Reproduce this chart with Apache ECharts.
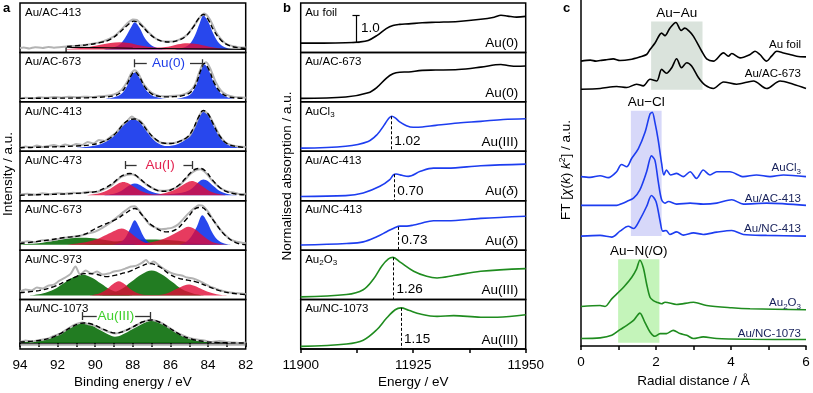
<!DOCTYPE html>
<html><head><meta charset="utf-8">
<script src="https://cdn.jsdelivr.net/npm/echarts@6/dist/echarts.min.js"></script>
<style>html,body{margin:0;padding:0;background:#fff}#c{width:813px;height:393px}</style>
</head><body><div id="c"></div>
<script>
// ================= DATA =================
// ---- Panel a: XPS Au 4f (x = binding energy / eV, y = intensity above background, a.u.)
const xpsNames = ['Au/AC-413','Au/AC-673','Au/NC-413','Au/NC-473','Au/NC-673','Au/NC-973','Au/NC-1073'];
const xpsBackground = [3, 3, 3.3, 5.5, 5.5, 4, 6];

const rawAC413 = [[94,1.5],[93.8,2],[93.5,1],[93.2,2.2],[92.8,1.5],[92.5,2.5],[92.2,1.8],[91.8,2.5],[91.5,3],[90.8,4],[90.2,5.5],[89.6,8],[89.0,13],[88.6,20],[88.3,26],[88.0,30],[87.8,29.5],[87.5,24],[87.1,16],[86.7,10],[86.3,8],[85.9,8],[85.5,10],[85.1,15],[84.7,25],[84.4,33],[84.2,36],[83.9,30],[83.6,18],[83.3,10],[83.0,5],[82.6,3],[82.3,2],[82.0,2]];
const envAC413 = [[91.5,3],[90.5,4.5],[89.7,7],[89.2,10],[88.7,17],[88.3,24],[87.95,28.3],[87.6,25],[87.2,17],[86.8,11],[86.4,8],[86.0,7.5],[85.6,9],[85.2,13],[84.8,22],[84.5,31],[84.25,35],[84.0,30],[83.7,19],[83.3,9],[82.9,4],[82.5,2],[82.0,1]];
const blueAC413 = [[89.6,0],[89.1,1.5],[88.7,5],[88.4,12],[88.1,22],[87.9,27.3],[87.65,22],[87.35,11],[87.0,4],[86.6,1],[86.2,0],[85.9,0],[85.4,1.5],[85.0,5],[84.7,14],[84.45,26],[84.25,34],[84.0,28],[83.7,15],[83.4,6],[83.0,1.5],[82.5,0]];
const redAC413 = [[91.5,0.5],[90.5,2],[89.8,4.5],[89.2,6.5],[88.7,7.3],[88.2,6.5],[87.6,4],[87.0,2.2],[86.5,2],[86.0,3.2],[85.6,5.2],[85.1,6.3],[84.6,5.5],[84.0,3],[83.4,1],[82.8,0]];
const bgStepAC413 = [[91.55,-3],[91.55,2.4],[88,1.2],[82,0]];

const rawAC673 = [[94,0],[93.7,1],[93.3,0.5],[93.0,1.5],[92.6,1],[92.2,1.8],[91.8,1.2],[91.4,2],[91.0,1.5],[90.6,2.2],[90.2,1.8],[89.8,2.5],[89.4,3],[89.0,4.5],[88.6,9],[88.3,17],[88.1,25],[87.9,28.5],[87.7,25],[87.4,14],[87.0,6],[86.6,3],[86.2,2.5],[85.8,3],[85.4,4],[85.0,7],[84.7,14],[84.5,25],[84.3,34],[84.1,36.5],[83.9,31],[83.6,17],[83.3,8],[83.0,4],[82.6,2],[82.3,1.5],[82.0,1]];
const envAC673 = [[94,0.5],[92,0.7],[90.5,1],[89.5,2],[89.0,3],[88.6,7],[88.3,15],[88.1,23],[87.9,27],[87.65,22],[87.35,11.5],[87.0,5],[86.6,2.5],[86.2,2],[85.8,2.2],[85.3,3.5],[84.9,7],[84.6,17],[84.4,28],[84.2,35.5],[83.95,29],[83.65,15],[83.3,6],[82.9,2],[82.5,1],[82.0,0.5]];
const blueAC673 = [[89.5,0],[89.0,1.5],[88.6,5],[88.3,13],[88.1,22],[87.9,26.3],[87.65,21],[87.35,10],[87.0,3.5],[86.6,1],[86.2,0],[85.8,0],[85.3,1.5],[84.9,5],[84.6,15],[84.4,27],[84.2,34.7],[83.95,28],[83.65,14],[83.3,5],[82.9,1],[82.5,0]];

const rawNC413 = [[94,0],[93.7,1.5],[93.4,0.5],[93.1,2.5],[92.8,1],[92.5,2],[92.2,3],[91.9,1.5],[91.6,3.5],[91.3,2],[91.0,4],[90.7,3],[90.4,6],[90.1,4.5],[89.8,8],[89.5,7],[89.2,11],[88.9,15],[88.6,22],[88.3,27],[88.05,31.5],[87.85,29],[87.6,27],[87.3,20],[87.0,12],[86.6,6],[86.2,4.5],[85.8,5],[85.4,7.5],[85.0,12],[84.7,22],[84.45,33],[84.25,37],[84.0,34],[83.7,24],[83.4,13],[83.1,6],[82.8,3],[82.4,1.5],[82.0,1]];
const envNC413 = [[94,0.3],[93,0.8],[92,1.3],[91,2],[90.3,3],[89.7,5.5],[89.2,10],[88.8,17],[88.5,24],[88.2,28],[87.9,29],[87.6,26],[87.2,16.5],[86.8,9],[86.4,5],[86.0,4.5],[85.6,6],[85.1,11],[84.8,19],[84.5,31],[84.25,37.5],[84.0,34],[83.7,23],[83.4,12.5],[83.0,4.5],[82.5,1.5],[82.0,0.5]];
const blueNC413 = [[91.0,0],[90.3,1.5],[89.7,4],[89.2,9],[88.8,16],[88.5,23],[88.2,27.5],[87.9,28.4],[87.6,25],[87.2,15],[86.8,6.5],[86.4,2.5],[86.2,2],[85.6,4],[85.1,10],[84.8,18],[84.5,30],[84.25,36.7],[84.0,33],[83.7,22],[83.4,12],[83.0,4],[82.5,1],[82.1,0]];

const rawNC473 = [[94,0.5],[93.6,1.5],[93.2,0.5],[92.8,2],[92.4,1],[92.0,2],[91.6,1.5],[91.2,2.5],[90.8,2],[90.4,3.5],[90.0,3],[89.6,5.5],[89.2,9],[88.9,14],[88.6,18.5],[88.3,20.5],[88.05,21],[87.8,19],[87.5,14],[87.1,8.5],[86.7,5],[86.3,4.5],[85.9,6],[85.5,10],[85.2,16],[84.9,22],[84.6,25.5],[84.4,26],[84.1,22],[83.8,15],[83.4,8],[83.0,4],[82.6,2.5],[82.3,1],[82.0,1.5]];
const envNC473 = [[94,0],[93,0.5],[92,1],[91,1.8],[90.5,2.5],[89.9,4],[89.4,8],[89.0,13],[88.7,18],[88.4,21],[88.15,21.7],[87.9,20.5],[87.6,16],[87.2,10],[86.8,5.5],[86.5,4],[86.2,4],[85.9,6],[85.5,11],[85.2,17],[84.9,23],[84.6,26.5],[84.4,26.7],[84.1,23.5],[83.8,16],[83.4,8],[83.0,3.5],[82.6,1.5],[82.2,0.5],[82.0,0.3]];
const redNC473 = [[90.5,0],[89.9,1.5],[89.4,4.5],[89.0,9],[88.75,12],[88.5,13.3],[88.25,12],[87.95,8.5],[87.6,4.5],[87.2,1.8],[86.8,0.8],[86.4,1.8],[85.9,4.5],[85.45,9],[85.15,12.5],[84.87,14.3],[84.6,12.8],[84.3,9],[83.95,4.5],[83.5,1.5],[83.0,0]];
const blueNC473 = [[89.6,0],[89.0,1.5],[88.6,4.5],[88.3,8.5],[88.1,10.8],[87.9,11.7],[87.65,10.5],[87.35,7],[87.0,3.5],[86.6,1.5],[86.2,1],[85.8,1.5],[85.4,2.5],[85.0,5],[84.7,9.5],[84.45,14],[84.25,15.7],[84.0,14],[83.7,9],[83.35,4],[82.9,1],[82.4,0]];

const rawNC673 = [[94,2],[93.6,3.5],[93.2,2.5],[92.8,4.5],[92.4,4],[92.0,5.5],[91.6,7],[91.2,8],[90.8,9],[90.4,11],[90.0,13],[89.6,17],[89.2,22],[88.8,28],[88.4,34],[88.1,38],[87.9,38.5],[87.7,35],[87.4,27],[87.1,20],[86.8,17],[86.5,15.5],[86.2,16],[85.9,17],[85.6,20],[85.3,26],[85.0,32],[84.7,37],[84.5,39.5],[84.3,39],[84.0,33],[83.7,24],[83.4,16],[83.1,10],[82.8,5],[82.5,3],[82.2,2],[82.0,1.5]];
const envNC673 = [[94,1.2],[92.8,3.8],[91.6,7.2],[90.7,9.5],[89.8,17.8],[88.9,25.2],[88.4,31.2],[87.9,36.2],[87.5,29.5],[87.0,19.5],[86.2,12.8],[85.7,15.2],[85.2,24.5],[84.5,37.2],[84.3,37],[84.0,31.2],[83.6,21.2],[83.1,9.5],[82.5,1.8],[82.0,0]];
const green1NC673 = [[94,0.5],[93,1.5],[92.2,4],[91.5,6],[90.7,7],[89.9,6],[89.2,4],[88.4,1.5],[87.5,0.3],[87,0]];
const green2NC673 = [[91,0],[90,1],[89.2,2.5],[88.4,4.2],[87.1,5.2],[85.8,4.2],[85,2.5],[84.2,1],[83.3,0.2],[82.5,0]];
const blueNC673 = [[89.1,0],[88.7,2],[88.4,7],[88.15,16],[87.9,24.5],[87.7,19],[87.45,9],[87.2,3],[86.8,0],[85.6,0],[85.2,2.5],[84.9,8],[84.6,18],[84.3,29.5],[84.05,23],[83.8,13],[83.5,5],[83.1,1],[82.7,0]];
const red1NC673 = [[91.5,0],[90.7,2],[90,5],[89.4,10],[88.9,14.5],[88.6,16.2],[88.2,13],[87.8,7],[87.4,2.5],[87,0.5],[86.6,0]];
const red2NC673 = [[88,0],[87.2,2],[86.5,5],[85.9,10],[85.4,15],[85.05,17.8],[84.7,15.5],[84.3,9.5],[83.9,4],[83.5,1.2],[83,0]];

const rawNC973 = [[94,4],[93.7,6],[93.4,5],[93.1,8],[92.8,7],[92.5,10],[92.2,11],[91.9,15],[91.6,18],[91.3,22],[91.05,29],[90.8,21],[90.5,25],[90.2,22],[89.9,24],[89.6,21],[89.3,22],[89.0,24],[88.7,25],[88.4,27],[88.1,29],[87.8,30],[87.5,33],[87.3,35.5],[87.1,32],[86.9,34],[86.6,30],[86.3,26],[86.0,23],[85.7,21],[85.4,20],[85.1,18],[84.8,17],[84.5,15],[84.2,12],[83.9,9],[83.6,7],[83.3,5],[83.0,3.5],[82.6,2.5],[82.2,2],[82.0,1.5]];
const envNC973 = [[94,3],[93,5],[92.2,9],[91.6,14],[91,19],[90.6,22],[90.0,21.5],[89.4,19],[88.9,20.5],[88.6,22],[88.2,24],[87.6,29],[87.1,32],[86.6,29],[86.1,22],[85.6,17.5],[85.1,15.5],[84.6,13.5],[84.0,9],[83.4,5],[82.8,2.5],[82.0,1]];
const green1NC973 = [[93.5,0],[92.8,2],[92.2,6],[91.7,12],[91.2,18],[90.7,21],[90.2,18],[89.7,12],[89.2,6],[88.6,2],[88,0]];
const green2NC973 = [[89.8,0],[89.2,2],[88.6,6.5],[88.1,13.5],[87.5,21.5],[87.0,25],[86.5,21.5],[85.9,13.5],[85.4,6.5],[84.8,2],[84.2,0]];
const redNC973 = [[90.3,0],[89.8,2],[89.4,6],[89.05,11.5],[88.75,14.3],[88.45,11.5],[88.1,6],[87.7,2],[87.2,0.5],[86.8,0.5],[86.2,2],[85.8,5.5],[85.4,9],[85.05,11],[84.7,9.5],[84.3,6],[83.8,2.5],[83.3,0.5],[82.8,0]];

const rawNC1073 = [[94,1],[93.7,2.5],[93.4,1.5],[93.0,3],[92.6,4],[92.2,7],[91.8,10],[91.4,15],[91.0,19],[90.7,20.5],[90.4,19],[90.0,17],[89.6,13.5],[89.2,10.5],[88.9,9.5],[88.6,11],[88.2,14],[87.8,18],[87.4,21.5],[87.0,23],[86.6,21],[86.2,17],[85.8,12],[85.4,8],[85.0,5],[84.6,3.5],[84.2,2.5],[83.8,1],[83.4,2],[83.0,1],[82.6,0.5],[82.2,0],[82.0,0.5]];
const envNC1073 = [[94,1],[93,2.5],[92.3,5.5],[91.8,10],[91.3,15.5],[90.9,19],[90.6,20],[90.2,19],[89.7,15],[89.2,11],[88.9,10],[88.5,11.5],[88.0,16],[87.5,21],[87.0,23],[86.6,21],[86.1,15.5],[85.5,8.5],[84.9,4],[84.2,1.5],[83.5,0.5],[82.0,0]];
const greenNC1073 = [[94,0.5],[93.2,1.5],[92.6,3.5],[92.0,7.5],[91.5,13],[91.0,18],[90.7,19.7],[90.3,18.5],[89.8,13.5],[89.3,8.5],[88.95,6.3],[88.6,8],[88.0,14],[87.4,20],[87.0,22.3],[86.6,20.5],[86.1,15],[85.5,8],[84.9,3.5],[84.2,1.2],[83.5,0.3],[82.5,0]];
const baseNC1073 = [[94,-1.8],[82,-1.8]];

// ---- Panel b: XANES Au L3 (x = energy / eV, y = normalised absorption)
const xanesNames = ['Au foil','Au/AC-673','AuCl{s|3}','Au/AC-413','Au/NC-413','Au{s|2}O{s|3}','Au/NC-1073'];
const xanesStates = ['Au(0)','Au(0)','Au(III)','Au({i|δ})','Au({i|δ})','Au(III)','Au(III)'];
const xFoil = [[11900,0.35],[11905,0.35],[11910,0.36],[11913,0.39],[11915,0.45],[11917,0.64],[11919,0.89],[11920.5,1.01],[11922,1.05],[11924,1.07],[11927,1.11],[11930,1.13],[11935,1.16],[11940,1.24],[11943,1.32],[11944.5,1.39],[11946,1.36],[11948,1.32],[11950,1.35]];
const xAC673 = [[11900,0.13],[11910,0.18],[11915,0.34],[11917,0.55],[11919,0.88],[11920.5,1.05],[11922,1.11],[11924,1.12],[11927,1.18],[11930,1.19],[11935,1.21],[11940,1.30],[11944.5,1.40],[11946,1.36],[11948,1.33],[11950,1.34]];
const xAuCl3 = [[11900,0.12],[11910,0.19],[11915,0.37],[11917,0.63],[11918.5,0.97],[11919.5,1.22],[11920.2,1.31],[11921,1.25],[11922,1.10],[11923.5,0.96],[11925,0.90],[11927,0.91],[11930,0.97],[11935,1.06],[11940,1.12],[11945,1.19],[11950,1.22]];
const xAC413 = [[11900,0.16],[11910,0.19],[11913.9,0.29],[11917.6,0.54],[11919.8,0.79],[11920.6,0.97],[11921.2,1.0],[11922.5,0.95],[11923.9,0.91],[11926.6,1.10],[11929.5,1.22],[11932.5,1.22],[11940,1.31],[11950,1.37]];
const xNC413 = [[11900,0.19],[11910.2,0.25],[11913.9,0.31],[11916.9,0.50],[11919.1,0.69],[11921,0.85],[11922.1,0.90],[11923.6,0.90],[11925.1,0.94],[11926.6,1.0],[11929.5,1.10],[11932.5,1.10],[11940,1.19],[11950,1.27]];
const xAu2O3 = [[11900,0.10],[11910.2,0.19],[11913.9,0.37],[11916.1,0.75],[11918,1.25],[11919.5,1.52],[11920.5,1.58],[11922.1,1.40],[11925.1,1.06],[11928,0.87],[11930.3,0.81],[11934,0.90],[11940,1.06],[11950,1.16]];
const xNC1073 = [[11900,0.10],[11910.2,0.19],[11913.9,0.33],[11916.9,0.72],[11919.1,1.16],[11921,1.47],[11922.3,1.54],[11924,1.45],[11926.6,1.31],[11930.3,1.22],[11934,1.25],[11940,1.19],[11943.7,1.19],[11950,1.28]];
const xanesEdgeE   = [null, null, 11920.1, 11920.8, 11921.7, 11920.6, 11922.3];
const xanesEdgeTop = [null, null, 1.31, 0.99, 0.87, 1.58, 1.54];
const xanesWL      = ['', '', '1.02', '0.70', '0.73', '1.26', '1.15'];
const scaleBarE = 11912.3, scaleBarLo = 0.39, scaleBarHi = 1.39;

// ---- Panel c: FT-EXAFS (x = radial distance / Å, y = FT magnitude above own baseline)
const ftNames = ['Au foil','Au/AC-673','AuCl{s|3}','Au/AC-413','Au/NC-413','Au{s|2}O{s|3}','Au/NC-1073'];
const ftOffsets = [28.76, 25.93, 17.1, 14.2, 11.1, 4.0, 0.76];
const ftFoil = [[0,0],[0.25,0.1],[0.4,0],[0.51,0.07],[0.65,0.13],[0.86,0.23],[1.04,0.07],[1.31,0.17],[1.57,0.43],[1.75,0.67],[1.84,1.17],[1.97,1.8],[2.15,2.83],[2.24,2.57],[2.37,3.33],[2.53,3.9],[2.67,3.1],[2.77,3.33],[2.89,3.0],[3.0,2.5],[3.22,1.0],[3.35,0.23],[3.53,0],[3.8,0.83],[3.93,0.5],[4.02,0.77],[4.24,0.33],[4.51,0.67],[4.64,1.0],[4.77,0.67],[4.95,0],[5.08,0.5],[5.22,1.0],[5.4,0.83],[5.57,0.67],[5.75,0.5],[6,0.43]];
const ftAC673 = [[0,0],[0.51,0.07],[0.95,0.27],[1.22,0.17],[1.48,0.5],[1.66,0.33],[1.84,1.0],[2.02,0.83],[2.15,2.0],[2.28,1.6],[2.42,2.17],[2.55,3.07],[2.68,2.17],[2.82,2.67],[2.95,2.33],[3.13,1.17],[3.31,0.4],[3.53,0.07],[3.8,0.73],[4.15,0.5],[4.6,0.83],[4.95,0.07],[5.31,0.83],[5.66,0.5],[6,0.07]];
const ftAuCl3 = [[0,0],[0.24,-0.07],[0.51,0.1],[0.73,-0.1],[0.95,0.5],[1.08,1.23],[1.22,1.0],[1.35,1.83],[1.53,2.83],[1.71,4.5],[1.84,6.33],[1.9,6.5],[1.97,5.5],[2.06,3.67],[2.15,1.33],[2.21,0.17],[2.28,0.67],[2.39,0.17],[2.55,0.33],[2.73,0.0],[2.91,0.5],[3.08,-0.17],[3.26,0.67],[3.44,0.17],[3.62,0.5],[3.97,0.5],[4.33,0.0],[4.68,0.17],[5.04,0.0],[5.4,0.17],[6,0]];
const ftAC413 = [[0,0],[0.51,0],[0.95,0],[1.1,0.2],[1.22,0.4],[1.4,0.73],[1.57,1.57],[1.75,3.4],[1.88,5.0],[1.97,4.57],[2.06,2.4],[2.15,0.57],[2.24,0.23],[2.33,0.4],[2.55,0.13],[2.91,0.23],[3.26,0.13],[3.62,0.23],[4.02,0.57],[4.33,0.13],[4.95,0.23],[6,0]];
const ftNC413 = [[0,0],[0.51,0.07],[0.82,-0.1],[1.04,0.5],[1.26,1.0],[1.4,0.77],[1.57,1.67],[1.75,3.0],[1.88,4.1],[2.0,3.5],[2.11,1.5],[2.18,0.5],[2.27,0.57],[2.37,0.17],[2.55,0.43],[2.73,0.1],[3.0,0.33],[3.26,0.17],[3.62,0.4],[4.02,0.57],[4.33,0.17],[4.95,0.07],[6,0]];
const ftAu2O3 = [[0,0],[0.51,0.1],[0.64,0],[0.82,0.77],[1.0,1.43],[1.17,2.1],[1.35,2.93],[1.48,3.77],[1.57,4.67],[1.66,3.93],[1.75,2.27],[1.84,0.93],[1.93,0.6],[2.02,0.43],[2.15,0.27],[2.24,0.43],[2.55,0.2],[3.0,0.43],[3.35,0.1],[4.02,-0.13],[4.51,-0.23],[6,-0.33]];
const ftNC1073 = [[0,0],[0.51,0.07],[0.82,0.33],[1.04,0.9],[1.22,1.33],[1.4,1.83],[1.57,2.57],[1.7,1.67],[1.84,0.67],[1.97,0.23],[2.11,0.5],[2.28,0.5],[2.46,0.83],[2.64,0.5],[2.82,0.33],[3.0,0],[3.26,0.17],[3.62,0],[4.51,-0.07],[6,-0.1]];
const ftShells = [
  {name:'Au−Au',    r:[1.87,3.24], y:[25.86,32.76]},
  {name:'Au−Cl',    r:[1.33,2.15], y:[11.1,23.76]},
  {name:'Au−N(/O)', r:[0.99,2.09], y:[0.33,8.76]}
];

// ================= LAYOUT / STYLE =================
const FONT = '"Liberation Sans", Arial, Helvetica, sans-serif';
const TOP = 3, BOXH = 49.43, NBOX = 7;
const A_LEFT = 20, A_W = 225.7, B_LEFT = 300.7, B_W = 225;
const C_LEFT = 581, C_W = 225, C_TOP = 0, C_H = 349.3;
const BLUE_F = 'rgba(10,45,235,0.88)', RED_F = 'rgba(225,10,55,0.8)', GREEN_F = 'rgba(10,110,10,0.9)';
const BLUE_L = '#1d3df0', GREEN_L = '#1f8c1f';
const xpsPanels = [
  {raw:rawAC413, env:envAC413, green:[], blue:[blueAC413], red:[redAC413], extra:bgStepAC413},
  {raw:rawAC673, env:envAC673, green:[], blue:[blueAC673], red:[]},
  {raw:rawNC413, env:envNC413, green:[], blue:[blueNC413], red:[]},
  {raw:rawNC473, env:envNC473, green:[], blue:[blueNC473], red:[redNC473]},
  {raw:rawNC673, env:envNC673, green:[green1NC673,green2NC673], blue:[blueNC673], red:[red1NC673,red2NC673]},
  {raw:rawNC973, env:envNC973, green:[green1NC973,green2NC973], blue:[], red:[redNC973]},
  {raw:rawNC1073, env:envNC1073, green:[greenNC1073], blue:[], red:[], extra:baseNC1073}
];
const xpsBrackets = [
  {panel:1, y:35.6, l:[87.9,87.26], r:[84.96,84.3], text:'Au(0)', color:'#1f3de8'},
  {panel:3, y:30.2, l:[88.41,87.8], r:[85.31,84.86], text:'Au(I)', color:'#e3214f'},
  {panel:6, y:27.0, l:[90.67,89.92], r:[87.88,87.09], text:'Au(III)', color:'#3fcf2c'}
];
const xanesData = [xFoil, xAC673, xAuCl3, xAC413, xNC413, xAu2O3, xNC1073];
const xanesColors = ['#000','#000',BLUE_L,BLUE_L,BLUE_L,GREEN_L,GREEN_L];
const ftData = [ftFoil, ftAC673, ftAuCl3, ftAC413, ftNC413, ftAu2O3, ftNC1073];
const ftColors = ['#000','#000',BLUE_L,BLUE_L,BLUE_L,GREEN_L,GREEN_L];
const ftLabelY = [45, 74, 168.3, 199, 229.3, 303.3, 334.3];
const shellColors = ['rgba(205,218,208,0.75)','rgba(205,206,248,0.8)','rgba(190,243,178,0.9)'];

// ================= BUILD =================
const grids = [], xAxes = [], yAxes = [], series = [], graphics = [];
const axLine = {show:true, lineStyle:{color:'#000', width:1.5}};
const axTick = {show:true, inside:false, length:4, lineStyle:{color:'#000', width:1.5}};
const lblStyle = {color:'#000', fontSize:13.5, fontFamily:FONT};

for (let i = 0; i < NBOX; i++) {
  grids.push({left:A_LEFT, top:TOP + i*BOXH, width:A_W, height:BOXH, show:true, borderColor:'#000', borderWidth:1.5});
  const bottom = i === NBOX-1;
  xAxes.push({type:'value', gridIndex:i, min:82, max:94, inverse:true, interval:1, show:bottom,
    axisLine:axLine, axisTick:axTick, splitLine:{show:false},
    axisLabel:Object.assign({margin:9, formatter:v => (v % 2 === 0 ? String(v) : '')}, lblStyle),
    name: bottom ? 'Binding energy / eV' : '', nameLocation:'middle', nameGap:26, nameTextStyle:lblStyle});
  yAxes.push({type:'value', gridIndex:i, min:-xpsBackground[i], max:BOXH - xpsBackground[i], show:false});
}
for (let i = 0; i < NBOX; i++) {
  grids.push({left:B_LEFT, top:TOP + i*BOXH, width:B_W, height:BOXH, show:true, borderColor:'#000', borderWidth:1.5});
  const bottom = i === NBOX-1;
  xAxes.push({type:'value', gridIndex:NBOX+i, min:11900, max:11950, interval:12.5, show:bottom,
    axisLine:axLine, axisTick:axTick, splitLine:{show:false},
    axisLabel:Object.assign({margin:9, formatter:v => (v % 25 === 0 ? String(v) : '')}, lblStyle),
    name: bottom ? 'Energy / eV' : '', nameLocation:'middle', nameGap:26, nameTextStyle:lblStyle});
  yAxes.push({type:'value', gridIndex:NBOX+i, min:0, max:1.85, show:false});
}
grids.push({left:C_LEFT, top:C_TOP, width:C_W, height:C_H, show:false});
xAxes.push({type:'value', gridIndex:14, min:0, max:6, interval:1,
  axisLine:axLine, axisTick:axTick, splitLine:{show:false},
  axisLabel:Object.assign({margin:9, formatter:v => (v % 2 === 0 ? String(v) : '')}, lblStyle),
  name:'Radial distance / Å', nameLocation:'middle', nameGap:26, nameTextStyle:lblStyle});
yAxes.push({type:'value', gridIndex:14, min:0, max:34.93, axisLine:{show:true, lineStyle:{color:'#000', width:1.5}},
  axisTick:{show:false}, axisLabel:{show:false}, splitLine:{show:false}});

// Panel a series
function area(i, d, color) {
  return {type:'line', xAxisIndex:i, yAxisIndex:i, data:d, smooth:0.35, symbol:'none', silent:true,
    lineStyle:{width:0}, areaStyle:{color:color, opacity:1}};
}
xpsPanels.forEach((p, i) => {
  p.green.forEach(d => series.push(area(i, d, GREEN_F)));
  p.blue.forEach(d => series.push(area(i, d, BLUE_F)));
  p.red.forEach(d => series.push(area(i, d, RED_F)));
  if (p.extra) series.push({type:'line', xAxisIndex:i, yAxisIndex:i, data:p.extra, symbol:'none', silent:true,
    lineStyle:{color: i === 0 ? '#000' : '#8a8a8a', width:1.2}});
  const br = xpsBrackets.filter(b => b.panel === i);
  const rawS = {type:'line', xAxisIndex:i, yAxisIndex:i, data:p.raw, smooth:0.25, symbol:'none', silent:true,
    lineStyle:{color:'#b3b3b3', width:2}};
  if (br.length) {
    const b = br[0], h = 4;
    rawS.markLine = {silent:true, symbol:['none','none'], label:{show:false},
      lineStyle:{color:'#333', width:1.3, type:'solid'},
      data:[
        [{coord:[b.l[0], b.y-h]}, {coord:[b.l[0], b.y+h]}],
        [{coord:[b.l[0], b.y]}, {coord:[b.l[1], b.y]}],
        [{coord:[b.r[0], b.y]}, {coord:[b.r[1], b.y]}],
        [{coord:[b.r[1], b.y-h]}, {coord:[b.r[1], b.y+h]}]
      ]};
    rawS.markPoint = {silent:true, symbol:'circle', symbolSize:0,
      label:{show:true, position:'inside', color:b.color, fontSize:13.5, fontFamily:FONT, formatter:b.text},
      data:[{coord:[(b.l[1]+b.r[0])/2, b.y]}]};
  }
  series.push(rawS);
  series.push({type:'line', xAxisIndex:i, yAxisIndex:i, data:p.env, smooth:0.4, symbol:'none', silent:true,
    lineStyle:{color:'#000', width:1.4, type:[5,3]}});
});

// Panel b series
xanesData.forEach((d, i) => {
  const s = {type:'line', xAxisIndex:NBOX+i, yAxisIndex:NBOX+i, data:d, smooth:0.35, symbol:'none', silent:true,
    lineStyle:{color:xanesColors[i], width:1.6}};
  if (xanesEdgeE[i] !== null) {
    s.markLine = {silent:true, symbol:['none','none'], label:{show:false},
      lineStyle:{color:'#000', width:1, type:[3,2]},
      data:[[{coord:[xanesEdgeE[i], xanesEdgeTop[i]]}, {coord:[xanesEdgeE[i], 0]}]]};
    s.markPoint = {silent:true, symbol:'circle', symbolSize:0,
      label:{show:true, position:'right', distance:3, color:'#000', fontSize:13.5, fontFamily:FONT, formatter:xanesWL[i]},
      data:[{coord:[xanesEdgeE[i], 0.37]}]};
  }
  if (i === 0) {
    s.markLine = {silent:true, symbol:['none','none'], label:{show:false},
      lineStyle:{color:'#000', width:1.2, type:'solid'},
      data:[
        [{coord:[scaleBarE, scaleBarLo]}, {coord:[scaleBarE, scaleBarHi]}],
        [{coord:[scaleBarE-0.8, scaleBarLo]}, {coord:[scaleBarE+0.8, scaleBarLo]}],
        [{coord:[scaleBarE-0.8, scaleBarHi]}, {coord:[scaleBarE+0.8, scaleBarHi]}]
      ]};
    s.markPoint = {silent:true, symbol:'circle', symbolSize:0,
      label:{show:true, position:'right', distance:5, color:'#000', fontSize:13.5, fontFamily:FONT, formatter:'1.0'},
      data:[{coord:[scaleBarE, (scaleBarLo+scaleBarHi)/2]}]};
  }
  series.push(s);
});

// Panel c series
series.push({type:'line', xAxisIndex:14, yAxisIndex:14, data:[[0,0]], symbol:'none', silent:true,
  lineStyle:{opacity:0},
  markArea:{silent:true,
    data: ftShells.map((sh, k) => [
      {coord:[sh.r[0], sh.y[0]], itemStyle:{color:shellColors[k]},
       label:{show:true, position:'top', distance:1, formatter:sh.name, color:'#000', fontSize:13.5, fontFamily:FONT}},
      {coord:[sh.r[1], sh.y[1]]}
    ])}
});
ftData.forEach((d, i) => {
  series.push({type:'line', xAxisIndex:14, yAxisIndex:14, data:d.map(p => [p[0], p[1] + ftOffsets[i]]),
    smooth:0.3, symbol:'none', silent:true, lineStyle:{color:ftColors[i], width:1.6}});
});

// ---- Text graphics
const subRich = {
  s:{fontSize:8, fontFamily:FONT, fill:'#000', verticalAlign:'bottom', lineHeight:8},
  i:{fontSize:13.5, fontFamily:FONT, fill:'#000', fontStyle:'italic'}
};
function txt(x, y, text, opt) {
  opt = opt || {};
  return {type:'text', x:x, y:y, rotation:opt.rot || 0, silent:true, z:100,
    style:{text:text, fill:opt.color || '#000', fontSize:opt.size || 11.5, fontFamily:FONT,
      fontWeight:opt.weight || 'normal', align:opt.align || 'left', verticalAlign:'middle',
      rich:opt.rich, lineHeight:opt.lh}};
}
graphics.push(txt(3, 8, 'a', {size:13, weight:'bold'}));
graphics.push(txt(283, 8, 'b', {size:13, weight:'bold'}));
graphics.push(txt(563, 8, 'c', {size:13, weight:'bold'}));
graphics.push(txt(8, 174, 'Intensity / a.u.', {size:13.5, rot:Math.PI/2, align:'center'}));
graphics.push(txt(287, 176, 'Normalised absorption / a.u.', {size:13.5, rot:Math.PI/2, align:'center'}));
graphics.push(txt(566, 170, 'FT [{i|χ}({i|k}) {i|k}{p|2}] / a.u.', {size:13.5, rot:Math.PI/2, align:'center', lh:16,
  rich:{i:{fontSize:13.5, fontFamily:FONT, fontStyle:'italic', fill:'#000', lineHeight:16},
        p:{fontSize:8.5, fontFamily:FONT, fill:'#000', verticalAlign:'top', lineHeight:8}}}));
for (let i = 0; i < NBOX; i++) {
  const top = TOP + i*BOXH, bot = top + BOXH;
  graphics.push(txt(A_LEFT + 5, top + 9.5, xpsNames[i]));
  graphics.push(txt(B_LEFT + 4.5, top + 9.5, xanesNames[i], {lh:14,
    rich:{s:{fontSize:8, fontFamily:FONT, fill:'#000', verticalAlign:'bottom', lineHeight:9}}}));
  graphics.push(txt(B_LEFT + B_W - 7.5, bot - 9, xanesStates[i], {size:13.5, align:'right', lh:16,
    rich:{i:{fontSize:13.5, fontFamily:FONT, fontStyle:'italic', fill:'#000', lineHeight:16}}}));
  graphics.push(txt(801, ftLabelY[i], ftNames[i], {align:'right', lh:14, color: i < 2 ? '#000' : '#16205a',
    rich:{s:{fontSize:8, fontFamily:FONT, fill:'#16205a', verticalAlign:'bottom', lineHeight:9}}}));
}

const chart = echarts.init(document.getElementById('c'), null, {renderer:'canvas'});
chart.setOption({
  animation:false,
  backgroundColor:'#fff',
  textStyle:{fontFamily:FONT},
  grid:grids, xAxis:xAxes, yAxis:yAxes, series:series, graphic:graphics
});
</script>
</body></html>
